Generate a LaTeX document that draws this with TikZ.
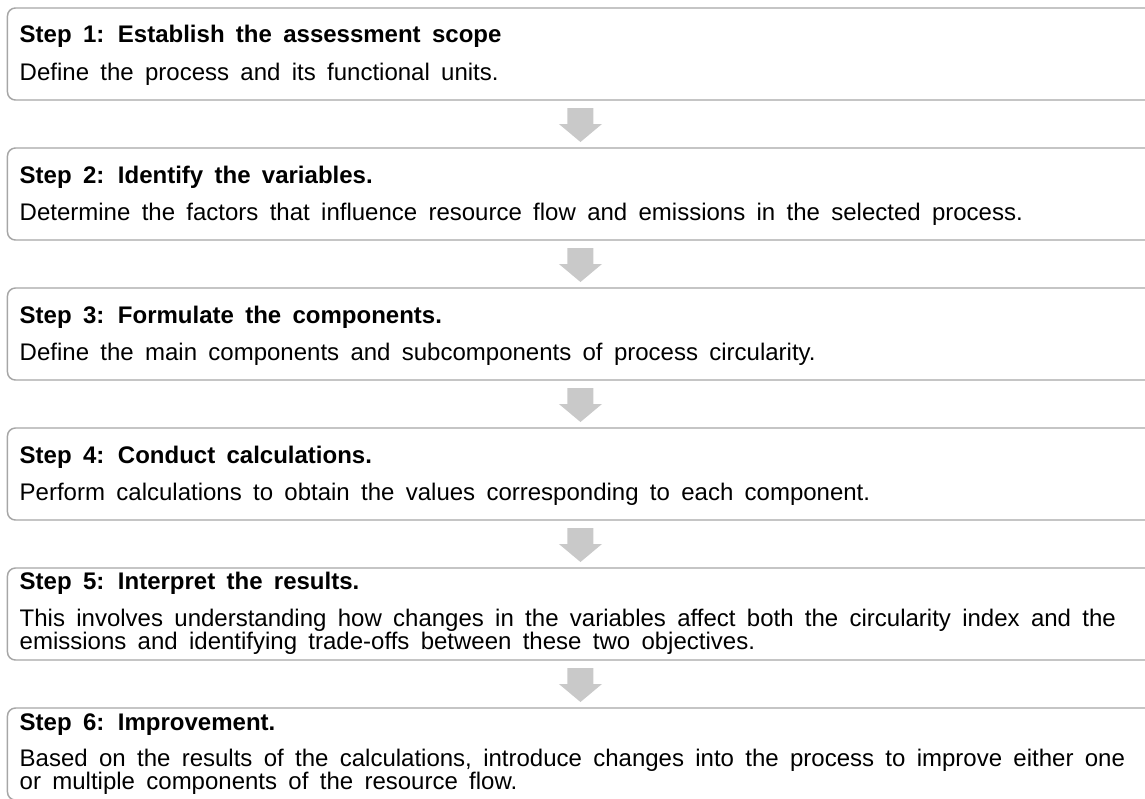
\documentclass[tikz,border=0pt]{standalone}
\usepackage{fontspec}
\setmainfont{Liberation Sans}[WordSpace=1.7]
\usepackage{xcolor}
\usetikzlibrary{positioning,calc}

\definecolor{boxline}{HTML}{A6A6A6}
\definecolor{arrowfill}{HTML}{C9C9C9}

\begin{document}
\begin{tikzpicture}[node distance=36pt,
  stepbox/.style={draw=boxline, line width=1.1pt, rounded corners=6pt, minimum width=859.5pt, minimum height=69pt, inner sep=0pt, outer sep=0pt},
  steptitle/.style={anchor=base west, inner sep=0pt, font=\fontsize{18}{21}\selectfont\bfseries},
  stepdesc/.style={anchor=base west, inner sep=0pt, font=\fontsize{18}{21}\selectfont},
  longdesc/.style={anchor=base west, inner sep=0pt, text width=850pt, align=justify, font=\fontsize{18}{14.25}\selectfont}]

  \useasboundingbox (0,0) rectangle (858.75pt,-599.25pt);

  % the six step boxes
  \node[stepbox, anchor=north west] (s1) at (5.6pt,-6pt) {};
  \node[stepbox, below=of s1] (s2) {};
  \node[stepbox, below=of s2] (s3) {};
  \node[stepbox, below=of s3] (s4) {};
  \node[stepbox, below=of s4] (s5) {};
  \node[stepbox, below=of s5] (s6) {};

  % titles and descriptions
  \node[below right=26.25pt and 9pt of s1.north west, steptitle] (t1) {Step 1: Establish the assessment scope};
  \node[below right=54pt and 9pt of s1.north west, stepdesc] (d1) {Define the process and its functional units.};
  \node[below right=26.25pt and 9pt of s2.north west, steptitle] (t2) {Step 2: Identify the variables.};
  \node[below right=54pt and 9pt of s2.north west, stepdesc] (d2) {Determine the factors that influence resource flow and emissions in the selected process.};
  \node[below right=26.25pt and 9pt of s3.north west, steptitle] (t3) {Step 3: Formulate the components.};
  \node[below right=54pt and 9pt of s3.north west, stepdesc] (d3) {Define the main components and subcomponents of process circularity.};
  \node[below right=26.25pt and 9pt of s4.north west, steptitle] (t4) {Step 4: Conduct calculations.};
  \node[below right=54pt and 9pt of s4.north west, stepdesc] (d4) {Perform calculations to obtain the values corresponding to each component.};
  \node[below right=16pt and 9pt of s5.north west, steptitle] (t5) {Step 5: Interpret the results.};
  \node[below right=43.5pt and 9pt of s5.north west, longdesc] (d5) {This involves understanding how changes in the variables affect both the circularity index and the\\ emissions and identifying trade-offs between these two objectives.};
  \node[below right=16.5pt and 9pt of s6.north west, steptitle] (t6) {Step 6: Improvement.};
  \node[below right=43.5pt and 9pt of s6.north west, longdesc] (d6) {Based on the results of the calculations, introduce changes into the process to improve either one\\ or multiple components of the resource flow.};

  % block arrows between the boxes
  \foreach \u/\v in {s1/s2,s2/s3,s3/s4,s4/s5,s5/s6}
    \fill[arrowfill] ($(\u.south)!0.5!(\v.north)$) ++(-9.75pt,12pt) -- ++(19.5pt,0) -- ++(0,-12pt) -- ++(6.4pt,0)
      -- ++(-16.15pt,-13.5pt) -- ++(-16.15pt,13.5pt) -- ++(6.4pt,0) -- cycle;
\end{tikzpicture}
\end{document}
